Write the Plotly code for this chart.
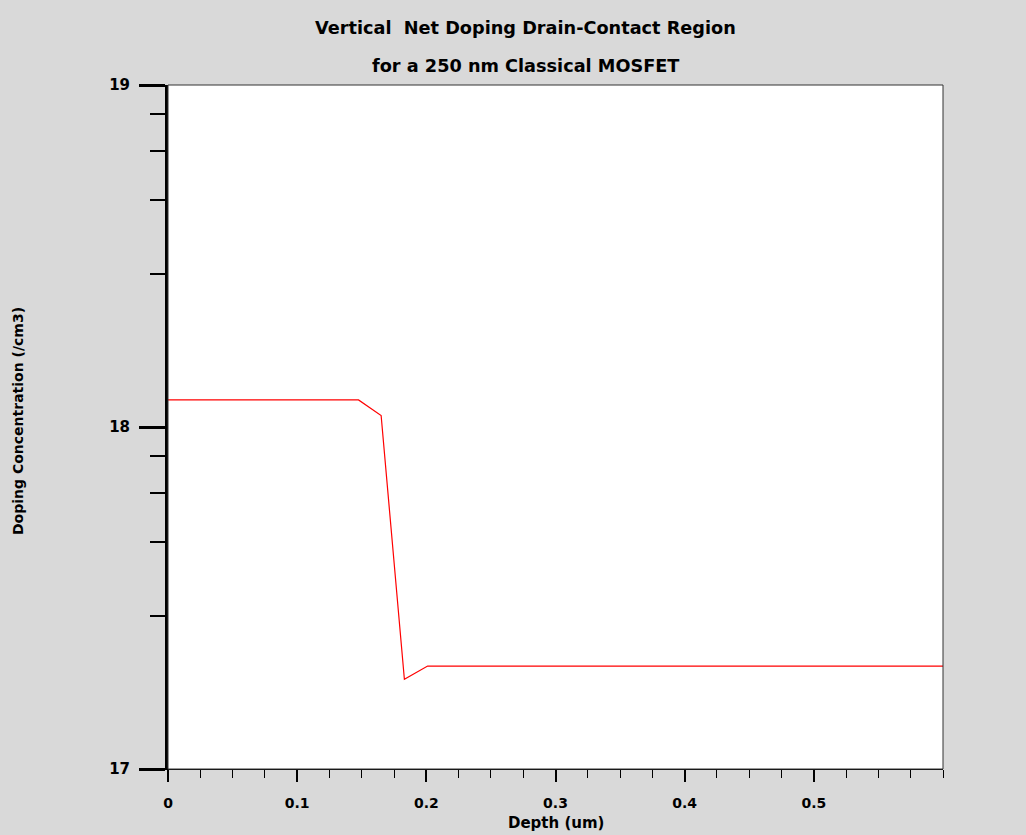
import plotly.graph_objects as go

depth_um = [0.0, 0.1475, 0.165, 0.183, 0.201, 0.6]
doping_cm3 = [1.20e18, 1.20e18, 1.08e18, 1.83e17, 2.0e17, 2.0e17]

y_major_vals = [1e17, 1e18, 1e19]
y_major_text = ["17", "18", "19"]
y_minor_vals = [2.8e17, 4.6e17, 6.4e17, 8.2e17, 2.8e18, 4.6e18, 6.4e18, 8.2e18]
x_major_vals = [0, 0.1, 0.2, 0.3, 0.4, 0.5]
x_major_text = ["0", "0.1", "0.2", "0.3", "0.4", "0.5"]

title_1 = "Vertical  Net Doping Drain-Contact Region"
title_2 = "for a 250 nm Classical MOSFET"

FONT = "DejaVu Sans, Liberation Sans, Arial, sans-serif"
BG = "#d9d9d9"

fig = go.Figure()
fig.add_trace(go.Scatter(x=depth_um, y=doping_cm3, mode="lines",
                         line=dict(color="#ff0000", width=1.2),
                         showlegend=False, hoverinfo="skip"))

fig.update_layout(
    width=1026, height=835,
    margin=dict(l=168, r=83, t=85, b=66),
    paper_bgcolor=BG, plot_bgcolor="white",
    font=dict(family=FONT, color="black", size=13),
    showlegend=False,
)

fig.update_xaxes(
    range=[0, 0.6], showgrid=False, zeroline=False,
    showline=True, linecolor="black", linewidth=1,
    ticks="outside", ticklen=12, tickwidth=2, tickcolor="black",
    tickmode="array", tickvals=x_major_vals, ticktext=x_major_text,
    tickfont=dict(family=FONT, size=14, weight="bold"),
    ticklabelstandoff=9,
    minor=dict(tickmode="linear", tick0=0, dtick=0.025, ticks="outside",
               ticklen=8, tickwidth=1, tickcolor="black", showgrid=False),
)

fig.update_yaxes(
    type="log", range=[17, 19], showgrid=False, zeroline=False,
    showline=True, linecolor="black", linewidth=3,
    ticks="outside", ticklen=26, tickwidth=3, tickcolor="black",
    tickmode="array", tickvals=y_major_vals, ticktext=y_major_text,
    tickfont=dict(family=FONT, size=15, weight="bold"),
    ticklabelstandoff=6,
    minor=dict(tickmode="array", tickvals=y_minor_vals, ticks="outside",
               ticklen=15, tickwidth=1.5, tickcolor="black", showgrid=False),
)

# thin frame around plot area
fig.add_shape(type="rect", xref="paper", yref="paper", x0=0, y0=0, x1=1, y1=1,
              line=dict(color="#333333", width=1), layer="above")

TITLE_X = 0.461
fig.add_annotation(text=title_1, xref="paper", yref="paper", x=TITLE_X, y=1,
                   xanchor="center", yanchor="middle", yshift=57, showarrow=False,
                   font=dict(family=FONT, size=17.7, weight="bold"))
fig.add_annotation(text=title_2, xref="paper", yref="paper", x=TITLE_X, y=1,
                   xanchor="center", yanchor="middle", yshift=19, showarrow=False,
                   font=dict(family=FONT, size=17.7, weight="bold"))
fig.add_annotation(text="Depth (um)", xref="paper", yref="paper", x=0.5, y=0,
                   xanchor="center", yanchor="middle", yshift=-54, showarrow=False,
                   font=dict(family=FONT, size=15, weight="bold"))
fig.add_annotation(text="Doping Concentration (/cm3)", xref="paper", yref="paper",
                   x=0, y=0.5, xanchor="center", yanchor="middle", xshift=-150,
                   yshift=6, textangle=-90, showarrow=False,
                   font=dict(family=FONT, size=14, weight="bold"))

fig.write_html("out.html")
